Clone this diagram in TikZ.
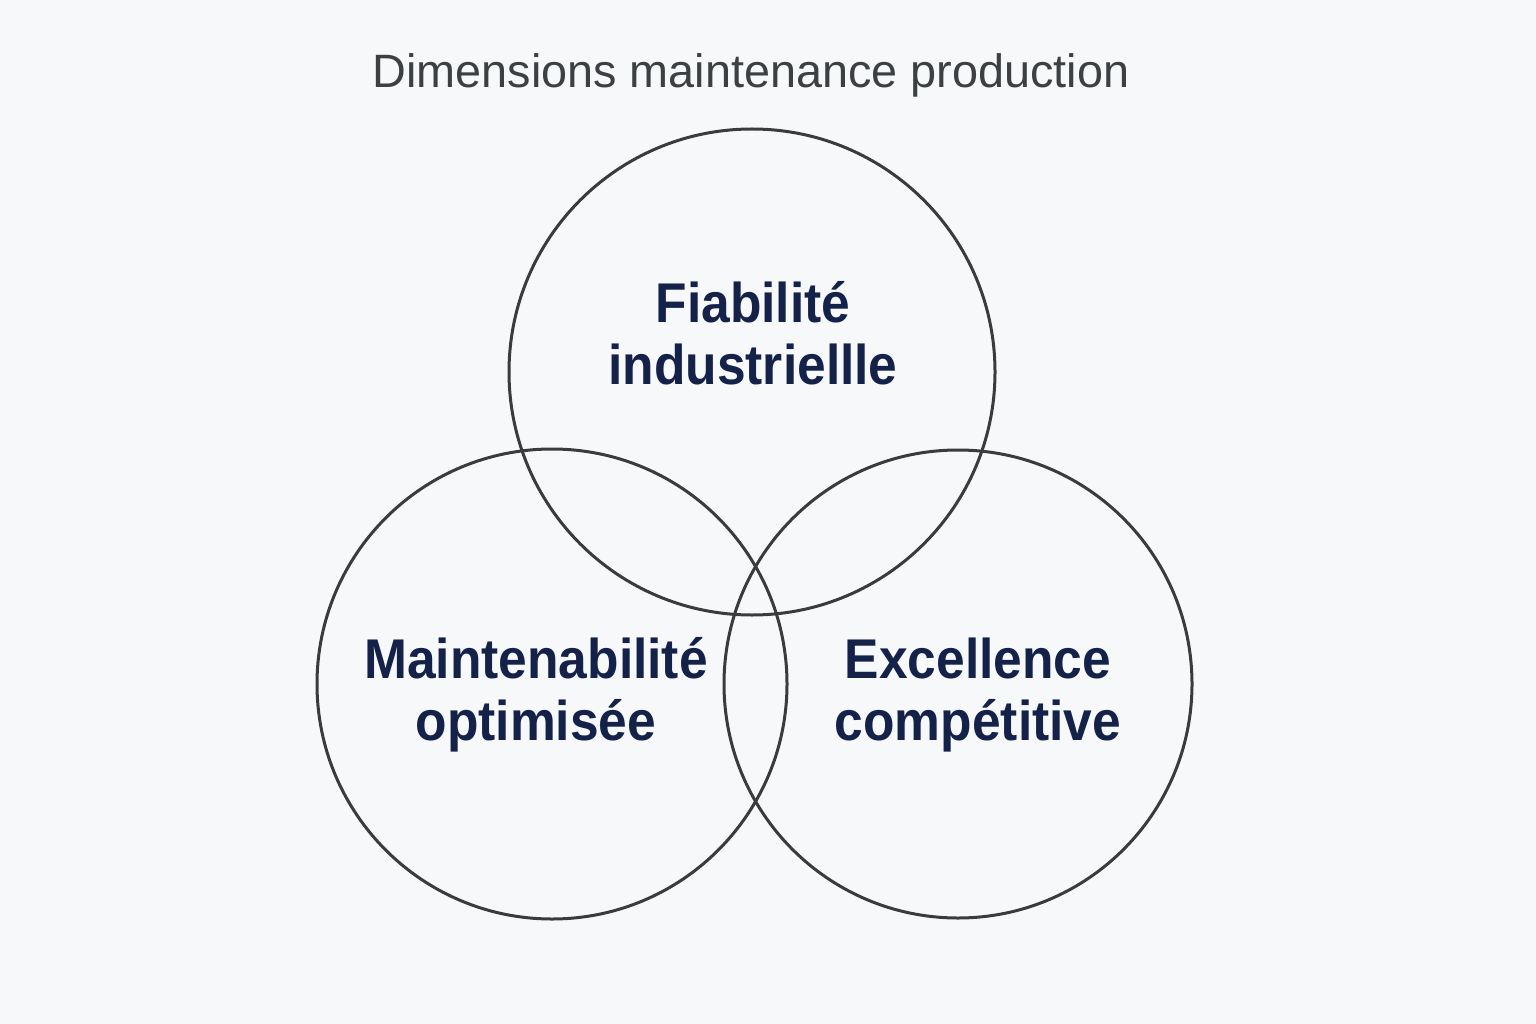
\documentclass[tikz,border=0pt]{standalone}
\usepackage{fontspec}
\setmainfont{Liberation Sans}
\newfontfamily\labelfont[FakeStretch=0.92]{Liberation Sans}
\usepackage{xcolor}
\usepackage{tikz}
\definecolor{bgcol}{HTML}{F7F8F9}
\definecolor{titlecol}{HTML}{3C4043}
\definecolor{navycol}{HTML}{14224A}
\definecolor{ringcol}{HTML}{3A3B3D}

\begin{document}
\begin{tikzpicture}[x=1pt,y=-1pt,
  ring/.style={circle,draw=ringcol,line width=3pt,inner sep=0pt},
  dimlabel/.style={anchor=base,align=center,inner sep=0pt,text=navycol,
    font={\labelfont\bfseries\fontsize{56}{62}\selectfont}},
  titletext/.style={anchor=base,inner sep=0pt,text=titlecol,
    font={\fontsize{46.8}{50}\selectfont}}]
\fill[bgcol] (0,0) rectangle (1536,1024);
\useasboundingbox (0,0) rectangle (1536,1024);

\node[titletext] (title) at (751,88) {Dimensions maintenance production};

\node[ring,minimum size=486pt] (fiab) at (752,372) {};
\node[ring,minimum size=470pt] (maint) at (552,684) {};
\node[ring,minimum size=468pt] (excel) at (958,684) {};

\node[dimlabel] (fiabtext) at (753,384) {Fiabilité\\industriellle};
\node[dimlabel] (mainttext) at (536,740) {Maintenabilité\\optimisée};
\node[dimlabel] (exceltext) at (978,740) {Excellence\\compétitive};
\end{tikzpicture}
\end{document}
